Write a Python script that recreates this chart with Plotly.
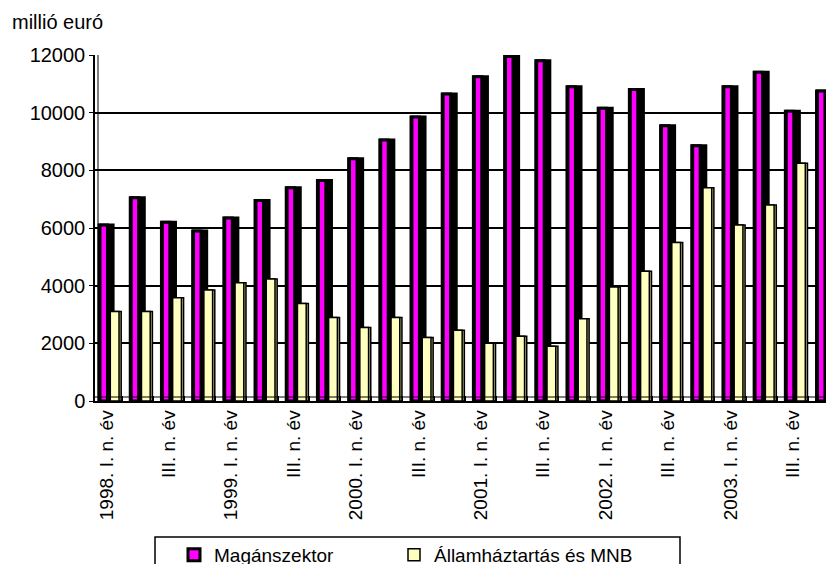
import plotly.graph_objects as go

# ---- data (millió euró) ----
quarters = [
    "1998. I. n. év", "1998. II. n. év", "1998. III. n. év", "1998. IV. n. év",
    "1999. I. n. év", "1999. II. n. év", "1999. III. n. év", "1999. IV. n. év",
    "2000. I. n. év", "2000. II. n. év", "2000. III. n. év", "2000. IV. n. év",
    "2001. I. n. év", "2001. II. n. év", "2001. III. n. év", "2001. IV. n. év",
    "2002. I. n. év", "2002. II. n. év", "2002. III. n. év", "2002. IV. n. év",
    "2003. I. n. év", "2003. II. n. év", "2003. III. n. év", "2003. IV. n. év",
]
magan = [6100, 7050, 6200, 5900, 6350, 6950, 7400, 7650, 8400, 9050, 9850, 10650,
         11250, 11950, 11800, 10900, 10150, 10800, 9550, 8850, 10900, 11400, 10050, 10750]
allam = [3100, 3100, 3580, 3850, 4100, 4230, 3380, 2900, 2550, 2900, 2200, 2450,
         2000, 2250, 1900, 2850, 3950, 4500, 5500, 7400, 6100, 6800, 8250, 8500]
tick_labels = ["1998. I. n. év", "III. n. év", "1999. I. n. év", "III. n. év",
               "2000. I. n. év", "III. n. év", "2001. I. n. év", "III. n. év",
               "2002. I. n. év", "III. n. év", "2003. I. n. év", "III. n. év"]
y_ticks = [0, 2000, 4000, 6000, 8000, 10000, 12000]
y_tick_labels = ["0", "2000", "4000", "6000", "8000", "10000", "12000"]

idx = list(range(len(quarters)))
FONT = "Liberation Sans, Arial, sans-serif"

fig = go.Figure()
# dark side of the Magánszektor columns
fig.add_trace(go.Bar(x=idx, y=magan, offset=-0.24, width=0.45,
                     marker=dict(color="black", line=dict(color="black", width=3)),
                     showlegend=False, hoverinfo="skip"))
# front face of the Magánszektor columns
fig.add_trace(go.Bar(x=idx, y=magan, offset=-0.21, width=0.24, name="Magánszektor",
                     legend="legend",
                     marker=dict(color="#FF00FF", line=dict(color="black", width=3))))
# side of the Államháztartás columns
fig.add_trace(go.Bar(x=idx, y=allam, offset=0.12, width=0.35,
                     marker=dict(color="#BDBD80", line=dict(color="black", width=1.5)),
                     showlegend=False, hoverinfo="skip"))
# front face of the Államháztartás columns
fig.add_trace(go.Bar(x=idx, y=allam, offset=0.12, width=0.28, name="Államháztartás és MNB",
                     legend="legend2",
                     marker=dict(color="#FFFFC0", line=dict(color="black", width=1.5))))

# page body has an 8px margin: figure starts at screen (8, 8)
OFF = 8
W, H = 834 - OFF, 564 - OFF
L, R, T = 95 - OFF, 0, 55 - OFF
PH = 346
B = H - T - PH
pw = W - L - R

def px_x(p):  # screen px -> paper x
    return (p - OFF - L) / pw

def px_y(p):  # screen px -> paper y
    return (T + PH - (p - OFF)) / PH

legend_common = dict(orientation="h", xanchor="left", yanchor="top",
                     font=dict(size=19, family=FONT, color="black"),
                     bgcolor="rgba(0,0,0,0)")

fig.update_layout(
    width=W, height=H,
    margin=dict(l=L, r=R, t=T, b=B, autoexpand=False),
    paper_bgcolor="white", plot_bgcolor="white",
    barmode="overlay",
    font=dict(family=FONT, color="black", size=19),
    showlegend=True,
    legend=dict(x=px_x(174), y=px_y(536), **legend_common),
    legend2=dict(x=px_x(394), y=px_y(536), **legend_common),
    xaxis=dict(range=[-0.37, 23.32], tickmode="array", tickvals=idx[::2], ticktext=tick_labels,
               tickangle=-90, tickfont=dict(size=19, family=FONT, color="black"),
               showgrid=False, zeroline=False, showline=True, linecolor="black", linewidth=1.5,
               ticks="", minor=dict(tick0=0.5, dtick=1, ticks="inside", ticklen=5,
                                    tickcolor="black", tickwidth=1)),
    yaxis=dict(range=[0, 12000], tickmode="array", tickvals=y_ticks, ticktext=y_tick_labels,
               tickfont=dict(size=20, family=FONT, color="black"),
               showgrid=True, gridcolor="black", gridwidth=2, zeroline=False,
               showline=True, linecolor="black", linewidth=1.5,
               ticks="outside", ticklen=4, tickcolor="black"),
    annotations=[dict(text="millió euró", xref="paper", yref="paper", x=px_x(10), y=px_y(22),
                      xanchor="left", yanchor="middle", showarrow=False,
                      font=dict(size=20, family=FONT, color="black"))],
    shapes=[
        dict(type="line", xref="paper", yref="paper", x0=px_x(98), x1=px_x(98), y0=0, y1=1,
             line=dict(color="black", width=1)),
        dict(type="line", xref="paper", yref="paper", x0=0, x1=1, y0=px_y(397), y1=px_y(397),
             line=dict(color="black", width=1)),
        dict(type="rect", xref="paper", yref="paper", x0=px_x(155), x1=px_x(680),
             y0=px_y(537), y1=px_y(590), line=dict(color="black", width=1.5),
             fillcolor="rgba(0,0,0,0)"),
    ],
)

fig.write_html("out.html")
